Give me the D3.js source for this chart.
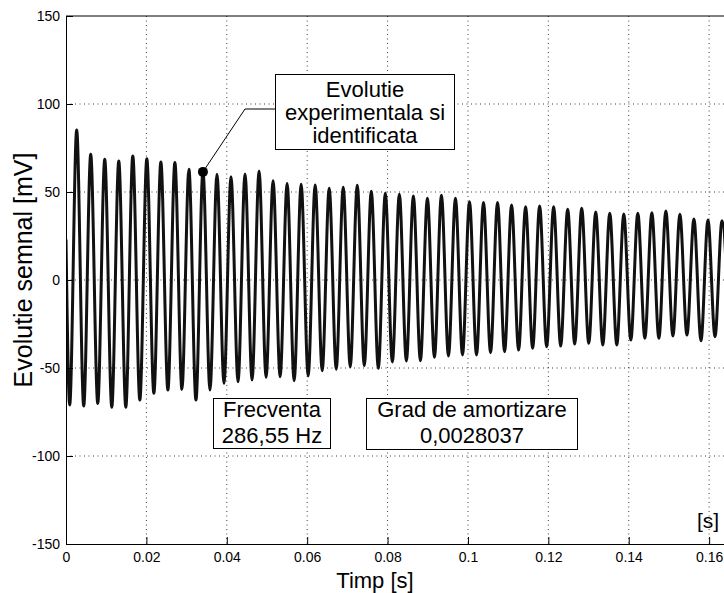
<!DOCTYPE html>
<html>
<head>
<meta charset="utf-8">
<script src="https://cdn.jsdelivr.net/npm/d3@7"></script>
<style>
  html, body { margin: 0; padding: 0; background: #fff; }
  svg { display: block; font-family: "Liberation Sans", Arial, Helvetica, sans-serif; }
  .grid line { stroke: #000; stroke-width: 1; stroke-dasharray: 1 3.5; opacity: 0.75; }
  .axis path, .axis line { stroke: #000; stroke-width: 1; }
  .axis text { fill: #000; font-size: 14px; }
  .box { fill: #fff; stroke: #000; stroke-width: 1; }
  .lbl { fill: #000; font-size: 22px; text-anchor: middle; }
</style>
</head>
<body>
<svg id="chart" width="724" height="593"></svg>
<script>
// signal start value, then alternating trough / peak extrema
const startPoint = { t: 0, v: 23 };

const troughTimes = [0.00092, 0.00441, 0.00790, 0.01139, 0.01488, 0.01837, 0.02186, 0.02535, 0.02884, 0.03233,
  0.03582, 0.03931, 0.04280, 0.04629, 0.04978, 0.05327, 0.05676, 0.06025, 0.06374, 0.06723,
  0.07072, 0.07421, 0.07770, 0.08119, 0.08468, 0.08817, 0.09166, 0.09515, 0.09864, 0.10213,
  0.10562, 0.10911, 0.11260, 0.11609, 0.11958, 0.12307, 0.12656, 0.13005, 0.13354, 0.13703,
  0.14052, 0.14401, 0.14750, 0.15099, 0.15448, 0.15797, 0.16146, 0.16495];
const troughValues = [-71.0, -71.6, -70.1, -72.3, -72.3, -68.2, -64.4, -62.5, -62.1, -68.2,
  -62.5, -58.7, -57.8, -56.8, -55.3, -55.0, -57.2, -54.5, -51.5, -50.7,
  -49.3, -48.7, -50.2, -46.6, -46.0, -45.9, -43.9, -43.2, -42.6, -42.6,
  -41.3, -40.7, -39.8, -38.8, -37.9, -37.5, -36.4, -36.0, -36.9, -36.9,
  -34.1, -33.1, -33.1, -31.8, -31.3, -34.5, -32.2, -32.0];

const peakTimes = [0.00266, 0.00615, 0.00964, 0.01313, 0.01662, 0.02011, 0.02360, 0.02709, 0.03058, 0.03407,
  0.03756, 0.04105, 0.04454, 0.04803, 0.05152, 0.05501, 0.05850, 0.06199, 0.06548, 0.06897,
  0.07246, 0.07595, 0.07944, 0.08293, 0.08642, 0.08991, 0.09340, 0.09689, 0.10038, 0.10387,
  0.10736, 0.11085, 0.11434, 0.11783, 0.12132, 0.12481, 0.12830, 0.13179, 0.13528, 0.13877,
  0.14226, 0.14575, 0.14924, 0.15273, 0.15622, 0.15971, 0.16320];
const peakValues = [85.2, 71.4, 68.6, 67.6, 70.5, 68.9, 67.0, 66.7, 62.9, 62.0,
  60.1, 58.7, 60.2, 61.9, 56.4, 54.9, 54.4, 54.0, 52.1, 52.7,
  53.8, 50.4, 49.3, 48.7, 47.7, 46.4, 48.1, 46.4, 44.5, 44.1,
  44.1, 42.6, 41.6, 42.0, 41.6, 40.2, 40.7, 38.6, 37.9, 37.5,
  37.9, 38.2, 39.2, 37.3, 34.7, 34.1, 33.7];

const xTicks = [0, 0.02, 0.04, 0.06, 0.08, 0.1, 0.12, 0.14, 0.16];
const yTicks = [-150, -100, -50, 0, 50, 100, 150];

// annotation marker sits on peak #9
const markerIndex = 9;
const freqText = ['Frecventa', '286,55 Hz'];
const dampText = ['Grad de amortizare', '0,0028037'];
const noteText = ['Evolutie', 'experimentala si', 'identificata'];

const svg = d3.select('#chart');
const plotL = 66, plotR = 724, plotT = 16, plotB = 544;

const x = d3.scaleLinear().domain([0, 0.1637]).range([plotL, plotR]);
const y = d3.scaleLinear().domain([-150, 150]).range([plotB, plotT]);

// merge extrema into one ordered series
const pts = [startPoint];
troughTimes.forEach((t, i) => {
  pts.push({ t, v: troughValues[i] });
  if (i < peakTimes.length) pts.push({ t: peakTimes[i], v: peakValues[i] });
});

svg.append('defs').append('clipPath').attr('id', 'plot-clip')
  .append('rect')
  .attr('x', plotL).attr('y', plotT)
  .attr('width', plotR - plotL).attr('height', plotB - plotT);

// grid
const grid = svg.append('g').attr('class', 'grid');
grid.selectAll('line.vx')
  .data(xTicks.filter((d) => d > 0))
  .join('line')
  .attr('x1', (d) => x(d)).attr('x2', (d) => x(d))
  .attr('y1', plotT).attr('y2', plotB);
grid.selectAll('line.hy')
  .data(yTicks.filter((d) => d > -150 && d < 150))
  .join('line')
  .attr('x1', plotL).attr('x2', plotR)
  .attr('y1', (d) => y(d)).attr('y2', (d) => y(d));

// signal
const line = d3.line()
  .x((d) => x(d.t))
  .y((d) => y(d.v))
  .curve(d3.curveMonotoneX);

svg.append('path')
  .datum(pts)
  .attr('clip-path', 'url(#plot-clip)')
  .attr('fill', 'none')
  .attr('stroke', '#111')
  .attr('stroke-width', 3)
  .attr('stroke-linejoin', 'round')
  .attr('d', line);

// axes (ticks point inward)
svg.append('g')
  .attr('class', 'axis')
  .attr('transform', `translate(0,${plotB})`)
  .call(d3.axisBottom(x).tickValues(xTicks).tickFormat((d) => String(d))
    .tickSizeInner(-7).tickSizeOuter(0).tickPadding(8));

svg.append('g')
  .attr('class', 'axis')
  .attr('transform', `translate(${plotL},0)`)
  .call(d3.axisLeft(y).tickValues(yTicks).tickFormat((d) => String(d))
    .tickSizeInner(-7).tickSizeOuter(0).tickPadding(6));

// top frame
svg.append('line')
  .attr('x1', plotL).attr('x2', plotR)
  .attr('y1', plotT).attr('y2', plotT)
  .attr('stroke', '#000');

// axis titles
svg.append('text')
  .attr('x', 375).attr('y', 588)
  .attr('text-anchor', 'middle')
  .attr('font-size', 22)
  .text('Timp [s]');

svg.append('text')
  .attr('transform', `translate(32,${(plotT + plotB) / 2 - 10}) rotate(-90)`)
  .attr('text-anchor', 'middle')
  .attr('font-size', 25)
  .text('Evolutie semnal [mV]');

svg.append('text')
  .attr('x', 708).attr('y', 528)
  .attr('text-anchor', 'middle')
  .attr('font-size', 21)
  .text('[s]');

// text boxes
function textBox(x0, y0, w, h, lines, baseline0, step) {
  const g = svg.append('g');
  g.append('rect').attr('class', 'box')
    .attr('x', x0).attr('y', y0).attr('width', w).attr('height', h);
  g.selectAll('text')
    .data(lines)
    .join('text')
    .attr('class', 'lbl')
    .attr('x', x0 + w / 2)
    .attr('y', (d, i) => baseline0 + i * step)
    .text((d) => d);
}

textBox(213.5, 398.5, 117, 50, freqText, 417, 26);
textBox(366.5, 398.5, 211, 51, dampText, 417, 26);

// annotation with leader line to the marked peak
const mx = x(peakTimes[markerIndex]);
const my = y(peakValues[markerIndex]) + 1;
svg.append('path')
  .attr('d', `M${mx},${my}L245,109L276,109`)
  .attr('fill', 'none')
  .attr('stroke', '#000')
  .attr('stroke-width', 1);
svg.append('circle')
  .attr('cx', mx).attr('cy', my).attr('r', 5)
  .attr('fill', '#000');

textBox(275.5, 74.5, 179, 75, noteText, 97, 23);
</script>
</body>
</html>
